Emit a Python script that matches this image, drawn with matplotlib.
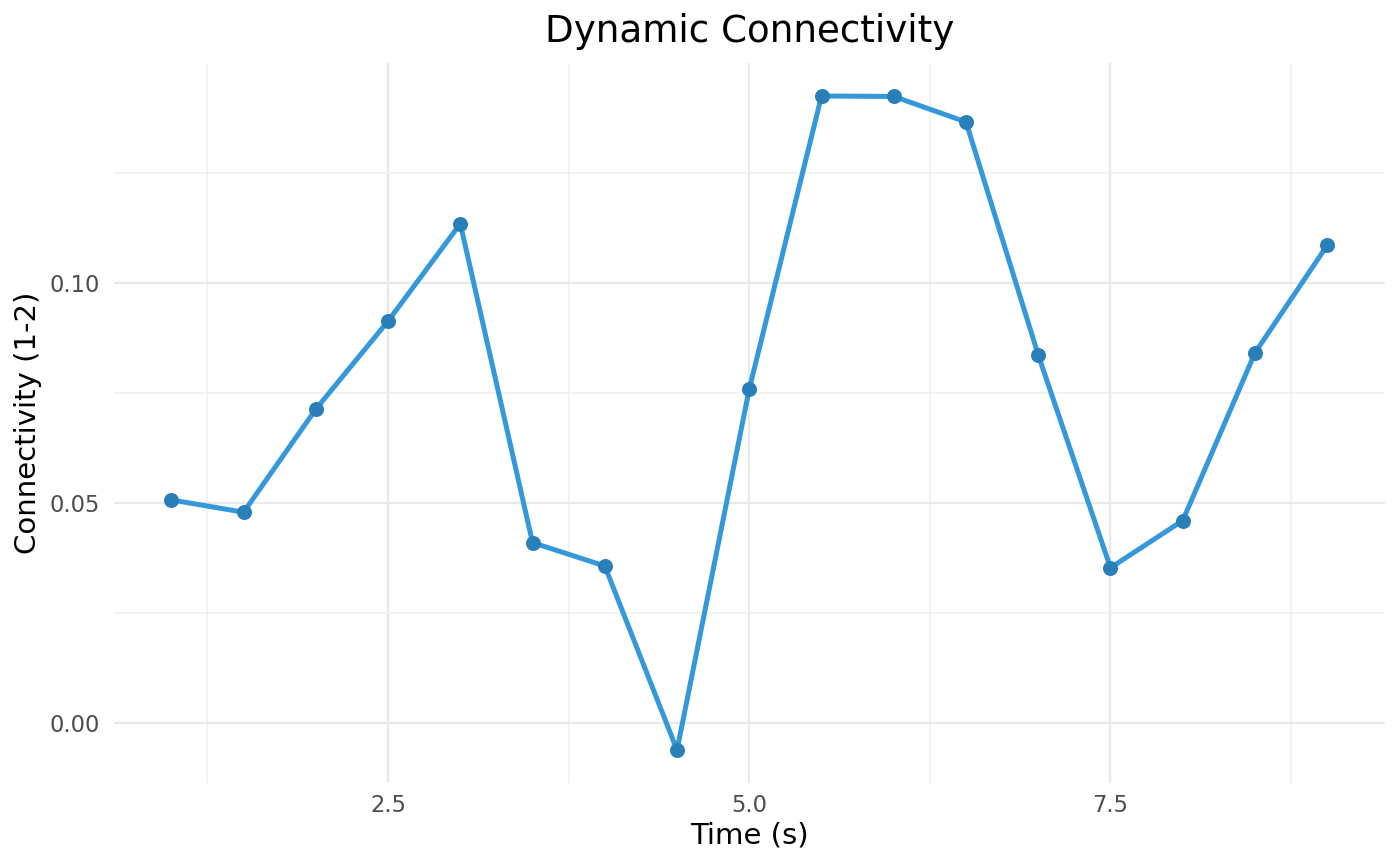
import numpy as np
import matplotlib
matplotlib.use('Agg')
import matplotlib.pyplot as plt
from matplotlib.ticker import MultipleLocator

# data
time_s = [1.0, 1.5, 2.0, 2.5, 3.0, 3.5, 4.0, 4.5, 5.0, 5.5, 6.0, 6.5, 7.0, 7.5, 8.0, 8.5, 9.0]
conn_12 = [0.0507, 0.0479, 0.0713, 0.0913, 0.1134, 0.0410, 0.0357, -0.0061, 0.0759, 0.1424, 0.1423, 0.1365,
           0.0836, 0.0353, 0.0460, 0.0841, 0.1085]

plt.rcParams['font.family'] = ['DejaVu Sans']

fig = plt.figure(figsize=(14, 8.66), dpi=100)
ax = fig.add_axes([0.0811, 0.0961, 0.9082, 0.8308])

ax.plot(time_s, conn_12, color='#3498db', linewidth=3.6, zorder=3)
ax.plot(time_s, conn_12, 'o', color='#2980b9', markersize=10.8, markeredgewidth=0, zorder=4)

# ggplot-like expansion of 5%
xr = max(time_s) - min(time_s)
yr = max(conn_12) - min(conn_12)
ax.set_xlim(min(time_s) - 0.05 * xr, max(time_s) + 0.05 * xr)
ax.set_ylim(min(conn_12) - 0.05 * yr, max(conn_12) + 0.05 * yr)

ax.xaxis.set_major_locator(MultipleLocator(2.5))
ax.xaxis.set_minor_locator(MultipleLocator(1.25))
ax.yaxis.set_major_locator(MultipleLocator(0.05))
ax.yaxis.set_minor_locator(MultipleLocator(0.025))
ax.xaxis.set_major_formatter(plt.FuncFormatter(lambda v, p: '{:.1f}'.format(v)))
ax.yaxis.set_major_formatter(plt.FuncFormatter(lambda v, p: '{:.2f}'.format(v)))

ax.grid(which='major', color='#e9e9e9', linewidth=1.6)
ax.grid(which='minor', color='#f0f0f0', linewidth=1.1)
ax.set_axisbelow(True)
for s in ax.spines.values():
    s.set_visible(False)
ax.tick_params(which='both', length=0)
ax.tick_params(axis='both', labelsize=16.3, colors='#4d4d4d')
ax.tick_params(axis='x', pad=8.4)
ax.tick_params(axis='y', pad=10)

ax.set_xlabel('Time (s)', fontsize=21, labelpad=3)
ax.set_ylabel('Connectivity (1-2)', fontsize=21, labelpad=5)
ax.set_title('Dynamic Connectivity', fontsize=26.8, pad=15)

fig.savefig('out.png', dpi=100, facecolor='white')
